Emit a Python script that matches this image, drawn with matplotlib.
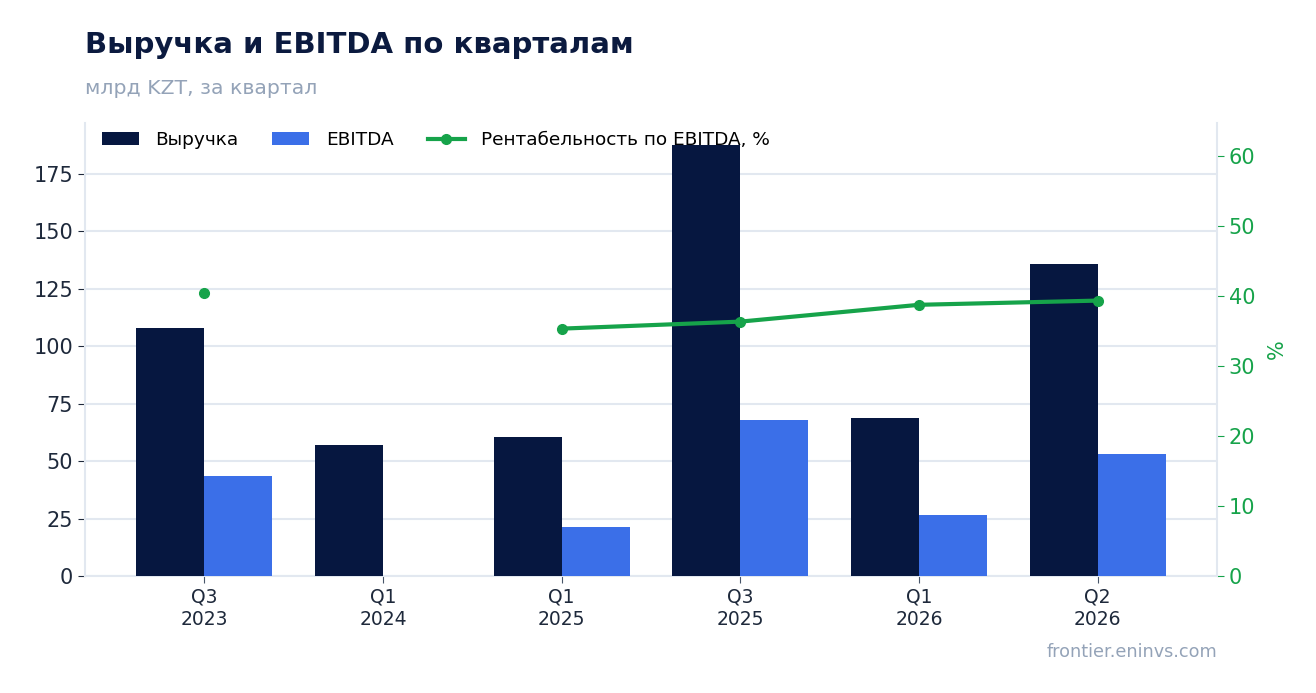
import numpy as np
import matplotlib.pyplot as plt

quarters = ["Q3\n2023", "Q1\n2024", "Q1\n2025", "Q3\n2025", "Q1\n2026", "Q2\n2026"]
revenue = [107.7, 56.9, 60.4, 187.6, 68.6, 135.5]
ebitda = [43.4, np.nan, 21.3, 67.7, 26.5, 53.0]
margin = [40.4, np.nan, 35.3, 36.3, 38.7, 39.3]

NAVY = "#061740"
BLUE = "#3b6fe8"
GREEN = "#16a34a"
GRID = "#e2e8f0"
TEXT = "#1e293b"
MUTED = "#94a3b8"

fig = plt.figure(figsize=(13.16, 6.93), dpi=100)
ax = fig.add_axes([0.0646, 0.1688, 0.8602, 0.6537])
x = np.arange(len(quarters))
w = 0.38

ax.bar(x - w / 2, revenue, w, color=NAVY, label="Выручка", zorder=3)
ax.bar(x + w / 2, ebitda, w, color=BLUE, label="EBITDA", zorder=3)

ax.set_xticks(x)
ax.set_xticklabels(quarters, fontsize=13.5, color=TEXT)
ax.tick_params(axis="y", labelsize=15, colors=TEXT, length=5)
ax.tick_params(axis="x", length=5, colors="#475569", labelcolor=TEXT)
ax.grid(axis="y", color=GRID, linewidth=1.5, zorder=0)
ax.set_axisbelow(True)
for s in ["top", "right"]:
    ax.spines[s].set_visible(False)
for s in ["left", "bottom"]:
    ax.spines[s].set_color(GRID)
    ax.spines[s].set_linewidth(1.5)

ax2 = ax.twinx()
ax2.plot(x, margin, color=GREEN, linewidth=3, marker="o", markersize=7,
         label="Рентабельность по EBITDA, %", zorder=4)
ax2.set_ylim(0, np.nanmax(margin) * 1.6)
ax2.set_ylabel("%", color=GREEN, fontsize=15, labelpad=8)
ax2.tick_params(axis="y", colors=GREEN, labelsize=15, length=5)
for s in ["top", "left", "bottom"]:
    ax2.spines[s].set_visible(False)
ax2.spines["right"].set_color(GRID)
ax2.spines["right"].set_linewidth(1.5)

h1, l1 = ax.get_legend_handles_labels()
h2, l2 = ax2.get_legend_handles_labels()
ax.legend(h1 + h2, l1 + l2, loc="upper left", ncol=3, frameon=False,
          fontsize=13.3, bbox_to_anchor=(0.0073, 1.0), borderaxespad=0.05,
          columnspacing=1.85, handlelength=2.0, handletextpad=0.9)

fig.text(0.0646, 0.935, "Выручка и EBITDA по кварталам", fontsize=21,
         fontweight="bold", color="#0b1a3f", va="center")
fig.text(0.0646, 0.873, "млрд KZT, за квартал", fontsize=14.7, color=MUTED,
         va="center")
fig.text(0.9248, 0.059, "frontier.eninvs.com", fontsize=12.7, color=MUTED,
         ha="right", va="center")

fig.savefig("out.png", dpi=100)
